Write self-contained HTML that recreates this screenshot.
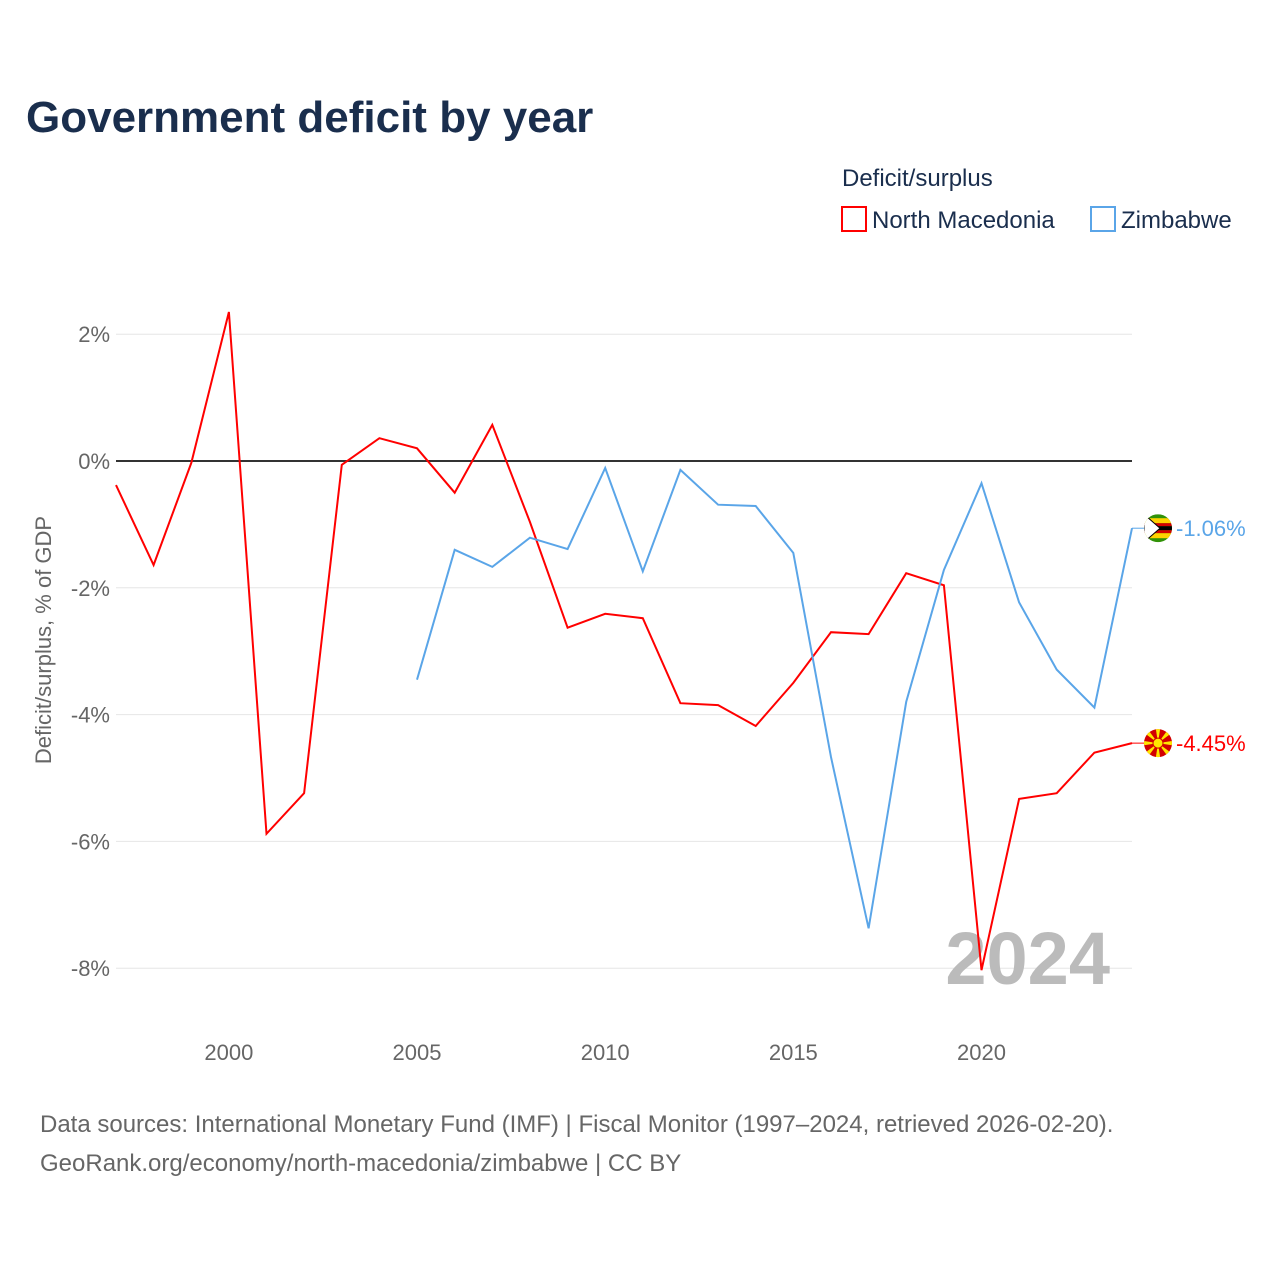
<!DOCTYPE html>
<html><head><meta charset="utf-8">
<style>
body{margin:0;background:#fff;font-family:"Liberation Sans",sans-serif;}
svg text{font-family:"Liberation Sans",sans-serif;}
</style></head>
<body>
<svg width="1280" height="1280" viewBox="0 0 1280 1280" xmlns="http://www.w3.org/2000/svg">
<defs id="defs"></defs>
<text x="26" y="132" font-size="44" font-weight="bold" fill="#1a2e4d">Government deficit by year</text>
<text x="842" y="186" font-size="24" fill="#1a2e4d">Deficit/surplus</text>
<g><rect x="842" y="207" width="24" height="24" fill="none" stroke="#ff0000" stroke-width="2"/><text x="872" y="228" font-size="24" fill="#1a2e4d">North Macedonia</text></g>
<g><rect x="1091" y="207" width="24" height="24" fill="none" stroke="#5aa5e8" stroke-width="2"/><text x="1121" y="228" font-size="24" fill="#1a2e4d">Zimbabwe</text></g>
<g id="grid"></g>
<text x="51" y="640" font-size="22" fill="#666" transform="rotate(-90 51 640)" text-anchor="middle">Deficit/surplus, % of GDP</text>
<text x="1110" y="984" font-size="74" font-weight="bold" fill="#bbb" text-anchor="end">2024</text>
<g id="lines"></g>
<text x="40" y="1132" font-size="24" fill="#666">Data sources: International Monetary Fund (IMF) | Fiscal Monitor (1997–2024, retrieved 2026-02-20).</text>
<text x="40" y="1171" font-size="24" fill="#666">GeoRank.org/economy/north-macedonia/zimbabwe | CC BY</text>
</svg>
<script>
const years=[1997,1998,1999,2000,2001,2002,2003,2004,2005,2006,2007,2008,2009,2010,2011,2012,2013,2014,2015,2016,2017,2018,2019,2020,2021,2022,2023,2024];
const macedonia=[-0.38,-1.64,-0.03,2.35,-5.88,-5.24,-0.06,0.36,0.2,-0.5,0.57,-0.96,-2.63,-2.41,-2.48,-3.82,-3.85,-4.18,-3.5,-2.7,-2.73,-1.77,-1.96,-8.03,-5.33,-5.24,-4.6,-4.45];
const zimbabwe=[null,null,null,null,null,null,null,null,-3.45,-1.4,-1.67,-1.21,-1.39,-0.11,-1.74,-0.14,-0.69,-0.71,-1.45,-4.67,-7.37,-3.8,-1.72,-0.35,-2.23,-3.29,-3.89,-1.06];
const yTicks=[2,0,-2,-4,-6,-8];
const xTicks=[2000,2005,2010,2015,2020];
const NS="http://www.w3.org/2000/svg";
const X=y=>116+(y-1997)*(1132-116)/27;
const Y=v=>461-v*63.4;
const grid=document.getElementById('grid'),lines=document.getElementById('lines'),defs=document.getElementById('defs');
function mk(tag,attrs,parent,txt){const e=document.createElementNS(NS,tag);for(const k in attrs)e.setAttribute(k,attrs[k]);if(txt!==undefined)e.textContent=txt;parent.appendChild(e);return e;}
yTicks.forEach(t=>{
  const l=mk('line',{x1:116,x2:1132,y1:Y(t),y2:Y(t),stroke:t===0?'#333':'#e6e6e6','stroke-width':t===0?2:1},grid);
  
  
  const tx=mk('text',{x:110,y:Y(t)+8,'font-size':22,fill:'#666','text-anchor':'end'},grid,t+'%');
  
  
});
xTicks.forEach(t=>{
  const tx=mk('text',{x:X(t),y:1060,'font-size':22,fill:'#666','text-anchor':'middle'},grid,String(t));
  
  
});
function series(vals,color,name){
  let d='';let started=false;
  vals.forEach((v,i)=>{if(v===null)return;d+=(started?'L':'M')+X(years[i]).toFixed(1)+' '+Y(v).toFixed(1);started=true;});
  const p=mk('path',{d:d,fill:'none',stroke:color,'stroke-width':2},lines);
  
  
  const last=vals[vals.length-1];
  const cy=Y(last);
  mk('line',{x1:1132,x2:1145,y1:cy,y2:cy,stroke:color,'stroke-width':1},lines);
  const cp=mk('clipPath',{id:'clip-'+name},defs);
  mk('circle',{cx:1158,cy:cy,r:14},cp);
  const g=mk('g',{'clip-path':'url(#clip-'+name+')'},lines);
  
  
  if(name==='zimbabwe'){
    mk('rect',{x:1144,y:cy-14,width:28,height:28,fill:'#319208'},g);
    mk('rect',{x:1144,y:cy-10,width:28,height:5,fill:'#ffd200'},g);
    mk('rect',{x:1144,y:cy-5,width:28,height:3,fill:'#d40000'},g);
    mk('rect',{x:1144,y:cy-2,width:28,height:4,fill:'#000'},g);
    mk('rect',{x:1144,y:cy+2,width:28,height:3,fill:'#d40000'},g);
    mk('rect',{x:1144,y:cy+5,width:28,height:5,fill:'#ffd200'},g);
    mk('path',{d:`M1144 ${cy-14}L1160 ${cy}L1144 ${cy+14}Z`,fill:'#fff',stroke:'#000','stroke-width':1},g);
  } else {
    mk('rect',{x:1144,y:cy-14,width:28,height:28,fill:'#d20000'},g);
    for(let a=0;a<8;a++){const ang=a*Math.PI/4;mk('path',{d:`M1158 ${cy}L${1158+20*Math.cos(ang-0.15)} ${cy+20*Math.sin(ang-0.15)}L${1158+20*Math.cos(ang+0.15)} ${cy+20*Math.sin(ang+0.15)}Z`,fill:'#ffe600'},g);}
    mk('circle',{cx:1158,cy:cy,r:5,fill:'#ffe600',stroke:'#d20000','stroke-width':1},g);
  }
  const t=mk('text',{x:1176,y:cy+8,'font-size':22,fill:color},lines,last.toFixed(2)+'%');
  
  
}
series(macedonia,'#ff0000','north-macedonia');
series(zimbabwe,'#5aa5e8','zimbabwe');
</script>
</body></html>
